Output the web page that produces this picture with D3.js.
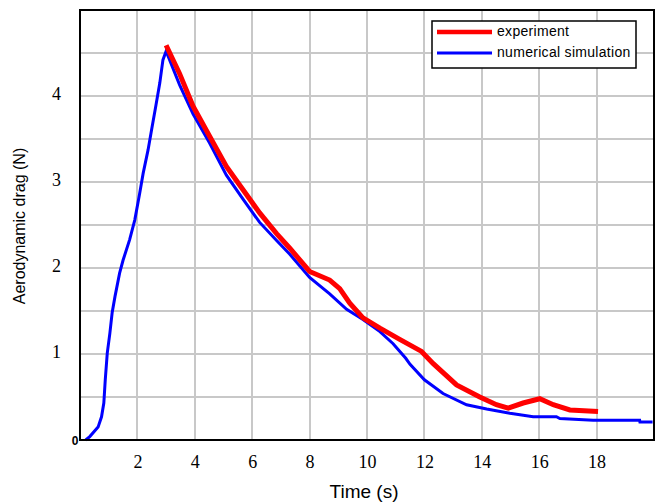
<!DOCTYPE html>
<html>
<head>
<meta charset="utf-8">
<script src="https://cdn.jsdelivr.net/npm/d3@7"></script>
<style>
    html, body { margin: 0; padding: 0; background: #fff; }
    svg { display: block; }
    .grid line { stroke: #c8c8c8; stroke-width: 2px; shape-rendering: crispEdges; }
    .axis-title { font-family: "Liberation Sans", Arial, sans-serif; fill: #000; }
    .legend-text { font-family: "Liberation Sans", Arial, sans-serif; font-size: 14px; letter-spacing: 0.3px; fill: #000; }
</style>
</head>
<body>
<svg id="chart" width="664" height="503"></svg>
<script>
(function() {
    'use strict';

    // Numerical simulation (blue)
    const simTime = [0.2, 0.34, 0.63, 0.75, 0.83, 0.88, 0.95, 1.04, 1.12, 1.22, 1.38, 1.5, 1.73, 1.91,
        2.08, 2.2, 2.37, 2.49, 2.64, 2.78, 2.89, 3.0, 3.47, 3.94, 4.52, 5.1, 5.68, 6.26, 6.85, 7.31,
        8.0, 8.7, 9.29, 9.86, 10.45, 10.91, 11.35, 11.5, 12.0, 12.65, 13.47, 14.17, 14.98, 15.79,
        16.6, 16.72, 17.88, 19.5, 19.51, 19.95];
    const simDrag = [0, 0.04, 0.15, 0.27, 0.43, 0.70, 1.01, 1.24, 1.48, 1.67, 1.94, 2.09, 2.33, 2.56,
        2.87, 3.10, 3.37, 3.60, 3.88, 4.15, 4.42, 4.52, 4.13, 3.79, 3.45, 3.08, 2.80, 2.53, 2.32, 2.16,
        1.89, 1.70, 1.52, 1.40, 1.26, 1.12, 0.95, 0.88, 0.70, 0.54, 0.41, 0.36, 0.31, 0.27,
        0.27, 0.25, 0.23, 0.23, 0.21, 0.21];

    // Experiment (red)
    const expTime = [3.0, 3.47, 3.94, 4.52, 5.1, 5.68, 6.26, 6.85, 7.31, 8.0, 8.7, 9.05, 9.4, 9.86,
        10.45, 11.14, 11.9, 12.3, 13.12, 13.93, 14.51, 14.92, 15.44, 16.02, 16.49, 17.07, 18.05];
    const expDrag = [4.59, 4.26, 3.88, 3.53, 3.18, 2.91, 2.64, 2.40, 2.23, 1.96, 1.86, 1.76, 1.59, 1.42,
        1.30, 1.17, 1.03, 0.89, 0.64, 0.50, 0.41, 0.37, 0.43, 0.48, 0.41, 0.35, 0.33];

    const xTicks = [2, 4, 6, 8, 10, 12, 14, 16, 18];
    const yTicks = [1, 2, 3, 4];
    const xGrid = [2, 4, 6, 8, 10, 12, 14, 16, 18];
    const yGrid = [0.5, 1, 1.5, 2, 2.5, 3, 3.5, 4, 4.5];

    const legendItems = [
        { label: 'experiment', color: '#ff0000', width: 4.5 },
        { label: 'numerical simulation', color: '#0000ff', width: 3 }
    ];

    const margin = { top: 10, right: 10, bottom: 63, left: 80 };
    const svg = d3.select('#chart');
    const width = +svg.attr('width') - margin.left - margin.right;
    const height = +svg.attr('height') - margin.top - margin.bottom;

    const g = svg.append('g')
        .attr('transform', `translate(${margin.left},${margin.top})`);

    const x = d3.scaleLinear().domain([0, 20]).range([0, width]);
    const y = d3.scaleLinear().domain([0, 5]).range([height, 0]);

    // Grid
    const grid = g.append('g').attr('class', 'grid');
    grid.selectAll('.vg')
        .data(xGrid)
        .enter()
        .append('line')
        .attr('x1', d => x(d)).attr('x2', d => x(d))
        .attr('y1', 0).attr('y2', height);
    grid.selectAll('.hg')
        .data(yGrid)
        .enter()
        .append('line')
        .attr('x1', 0).attr('x2', width)
        .attr('y1', d => y(d)).attr('y2', d => y(d));

    function styleTicks(sel) {
        sel.select('.domain').remove();
        sel.selectAll('text')
            .style('font-family', '"Liberation Serif", "DejaVu Serif", serif')
            .style('font-size', '18px')
            .style('fill', '#000');
    }

    // X axis labels
    const xAxis = g.append('g')
        .attr('transform', `translate(0,${height})`)
        .call(d3.axisBottom(x).tickValues(xTicks).tickFormat(d3.format('d')).tickSize(0).tickPadding(15));
    styleTicks(xAxis);

    // Y axis labels
    const yAxis = g.append('g')
        .call(d3.axisLeft(y).tickValues(yTicks).tickFormat(d3.format('d')).tickSize(0).tickPadding(19));
    styleTicks(yAxis);
    yAxis.selectAll('text').attr('dy', '0.2em');

    // small zero label
    g.append('text')
        .attr('x', -5)
        .attr('y', y(0) + 5)
        .attr('text-anchor', 'middle')
        .style('font-family', '"Liberation Sans", Arial, sans-serif')
        .style('font-size', '12px')
        .style('font-weight', 'bold')
        .text('0');

    // Lines
    const line = d3.line()
        .x(d => x(d[0]))
        .y(d => y(d[1]));

    g.append('path')
        .datum(simTime.map((t, i) => [t, simDrag[i]]))
        .attr('fill', 'none')
        .attr('stroke', '#0000ff')
        .attr('stroke-width', 3)
        .attr('d', line);

    g.append('path')
        .datum(expTime.map((t, i) => [t, expDrag[i]]))
        .attr('fill', 'none')
        .attr('stroke', '#ff0000')
        .attr('stroke-width', 5)
        .attr('d', line);

    // Frame
    g.append('rect')
        .attr('x', 0).attr('y', 0)
        .attr('width', width).attr('height', height)
        .attr('fill', 'none')
        .attr('stroke', '#000')
        .attr('stroke-width', 2);

    // Axis titles
    svg.append('text')
        .attr('class', 'axis-title')
        .attr('x', margin.left + width / 2 - 3)
        .attr('y', 498)
        .attr('text-anchor', 'middle')
        .style('font-size', '19px')
        .text('Time (s)');

    svg.append('text')
        .attr('class', 'axis-title')
        .attr('transform', 'rotate(-90)')
        .attr('x', -226)
        .attr('y', 25)
        .attr('text-anchor', 'middle')
        .style('font-size', '16px')
        .text('Aerodynamic drag (N)');

    // Legend
    const legend = svg.append('g').attr('transform', 'translate(432,21)');
    legend.append('rect')
        .attr('width', 204)
        .attr('height', 47)
        .attr('fill', '#fff')
        .attr('stroke', '#000')
        .attr('stroke-width', 1.5);

    legendItems.forEach((item, i) => {
        const ly = 11 + i * 21;
        legend.append('line')
            .attr('x1', 5).attr('x2', 60)
            .attr('y1', ly).attr('y2', ly)
            .attr('stroke', item.color)
            .attr('stroke-width', item.width);
        legend.append('text')
            .attr('class', 'legend-text')
            .attr('x', 65)
            .attr('y', ly + 4)
            .text(item.label);
    });
})();
</script>
</body>
</html>
